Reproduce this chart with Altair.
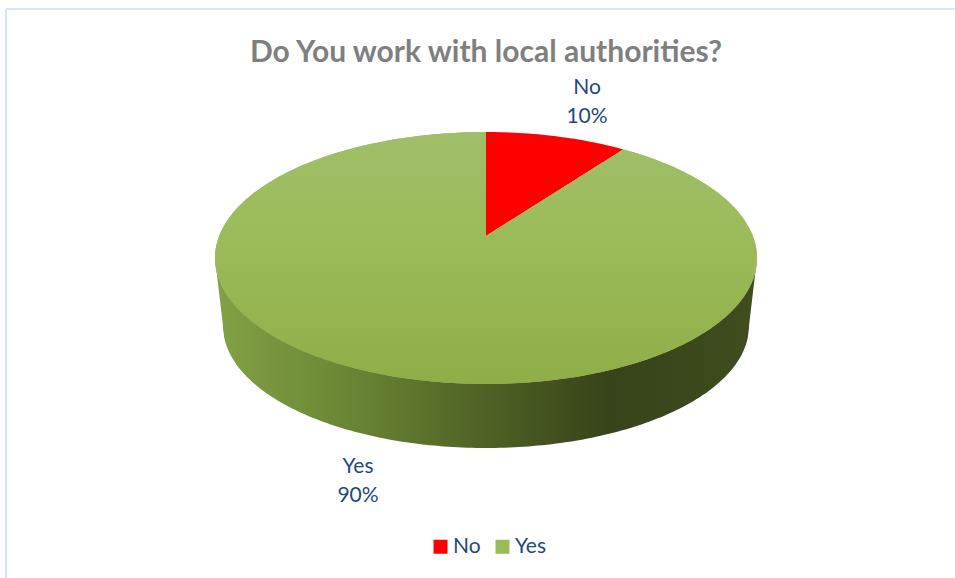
import math
import altair as alt
import pandas as pd

# Survey result
categories = ["No", "Yes"]
shares = [10, 90]
slice_colors = ["#FF0000", "#9BBB59"]
chart_title = "Do You work with local authorities?"

# Page layout
WIDTH, HEIGHT, TOP = 955, 578, 70
FONT = "Lato"
INK = "#1F497D"

# Drawing geometry of the tilted disc, in page units
CX, CY, RX, RY = 486, 258, 271, 126     # outline of the upper face
HUB_Y = 236                             # where the slices meet on the tilted face
BASE_CY, BASE_RX, BASE_RY = 326, 263, 122  # outline of the lower rim


def face_y(x, sign):
    """Upper (sign=-1) or lower (sign=+1) edge of the top face at offset x."""
    return CY + sign * RY * math.sqrt(max(0.0, 1 - (x / RX) ** 2))


def rim_y(x):
    if abs(x) <= BASE_RX:
        return BASE_CY + BASE_RY * math.sqrt(max(0.0, 1 - (x / BASE_RX) ** 2))
    return CY + (BASE_CY - CY) * (RX - abs(x)) / (RX - BASE_RX)


def boundary_point(share):
    """Perspective position of the edge point at a cumulative share, clockwise from 12 o'clock."""
    theta = 2 * math.pi * share / 100
    back = CY - RY
    front = CY + RY
    k = ((front - HUB_Y) - (HUB_Y - back)) / (front - back)
    depth = (HUB_Y - back) * (1 + k)
    spread = RX * math.sqrt(1 - k * k)
    w = 1 + k * math.cos(theta)
    return spread * math.sin(theta) / w, HUB_Y - depth * math.cos(theta) / w


end_x, end_y = boundary_point(shares[0])


def hub_line_y(x):
    return HUB_Y + (end_y - HUB_Y) * x / end_x


sweep = sorted({round(RX * math.sin(math.radians(a)), 3) for a in range(-90, 91)} | {round(end_x, 3), 0.0})

rows = []
# "No" slice: from the hub line up to the back edge
for x in [v for v in sweep if 0 <= v <= round(end_x, 3)]:
    rows.append(dict(slice="No", x=CX + x, top=min(face_y(x, -1), hub_line_y(x)), bottom=hub_line_y(x)))
# "Yes" slice: everything else on the face, swept left to right
for x in sweep:
    if x < 0:
        rows.append(dict(slice="Yes", x=CX + x, top=face_y(x, -1), bottom=face_y(x, 1)))
    else:
        if x == 0:
            rows.append(dict(slice="Yes", x=CX, top=face_y(0, -1), bottom=face_y(0, 1)))
        upper = hub_line_y(x) if x <= end_x else face_y(x, -1)
        rows.append(dict(slice="Yes", x=CX + x, top=upper, bottom=face_y(x, 1)))
faces = pd.DataFrame(rows)

side = pd.DataFrame(
    [dict(x=CX + v, top=CY, bottom=rim_y(v))
     for v in sorted(set(sweep) | {float(BASE_RX), float(-BASE_RX)})]
)

labels = pd.DataFrame(
    {
        "x": [587, 358],
        "y": [88, 467],
        "text": [f"{c}\n{s}%" for c, s in zip(categories, shares)],
    }
)
frame = pd.DataFrame({"x": [6, 6], "x2": [WIDTH, 6], "y": [9, 9], "y2": [9, HEIGHT]})

xs = alt.Scale(domain=[0, WIDTH], range=[0, WIDTH])
ys = alt.Scale(domain=[HEIGHT, TOP], range=[HEIGHT - TOP, 0])
X = alt.X("x:Q", scale=xs, axis=None)
Y = alt.Y("top:Q", scale=ys, axis=None)

border = alt.Chart(frame).mark_rule(color="#D8E6F6", strokeWidth=2).encode(
    x=X, x2="x2:Q", y=alt.Y("y:Q", scale=ys, axis=None), y2="y2:Q"
)

wall = alt.Chart(side).mark_area(
    orient="vertical",
    color=alt.LinearGradient(
        gradient="linear", x1=0, x2=1, y1=0, y2=0,
        stops=[
            alt.GradientStop(offset=0.0, color="#83A145"),
            alt.GradientStop(offset=0.25, color="#6A8634"),
            alt.GradientStop(offset=0.5, color="#4F6124"),
            alt.GradientStop(offset=0.73, color="#37431A"),
            alt.GradientStop(offset=1.0, color="#3F4D1F"),
        ],
    ),
).encode(x=X, y=Y, y2="bottom:Q")

flat = alt.Chart(faces).mark_area(orient="vertical").encode(
    x=X, y=Y, y2="bottom:Q",
    color=alt.Color(
        "slice:N",
        scale=alt.Scale(domain=categories, range=slice_colors),
        legend=alt.Legend(
            title=None, orient="none", legendX=430, legendY=466, direction="horizontal",
            columns=2, symbolType="square", symbolSize=196, symbolStrokeWidth=0, symbolOpacity=1,
            labelFont=FONT, labelFontSize=21, labelColor=INK, columnPadding=11, labelOffset=2,
        ),
    ),
)

# Soft top-to-bottom shading over the large slice
shade = alt.Chart(faces[faces["slice"] == "Yes"]).mark_area(
    orient="vertical",
    color=alt.LinearGradient(
        gradient="linear", x1=0, x2=0, y1=0, y2=1,
        stops=[
            alt.GradientStop(offset=0.0, color="#A1BE69"),
            alt.GradientStop(offset=0.45, color="#9BBB59"),
            alt.GradientStop(offset=1.0, color="#8FAE48"),
        ],
    ),
).encode(x=X, y=Y, y2="bottom:Q")

text = alt.Chart(labels).mark_text(
    font=FONT, fontSize=21, color=INK, lineBreak="\n", lineHeight=29, align="center", baseline="middle"
).encode(x=X, y=alt.Y("y:Q", scale=ys, axis=None), text="text:N")

chart = (
    alt.layer(border, wall, flat, shade, text)
    .properties(
        width=WIDTH,
        height=HEIGHT - TOP,
        padding={"left": 0, "right": 0, "top": TOP, "bottom": 0},
        autosize=alt.AutoSizeParams(type="none"),
        title=alt.TitleParams(
            chart_title, font=FONT, fontSize=30, fontWeight="bold", color="#7F7F7F",
            anchor="middle", dx=8.5, offset=-60,
        ),
    )
    .configure_view(stroke=None)
)

chart.save("out.html", embed_options={"renderer": "svg", "actions": False})
